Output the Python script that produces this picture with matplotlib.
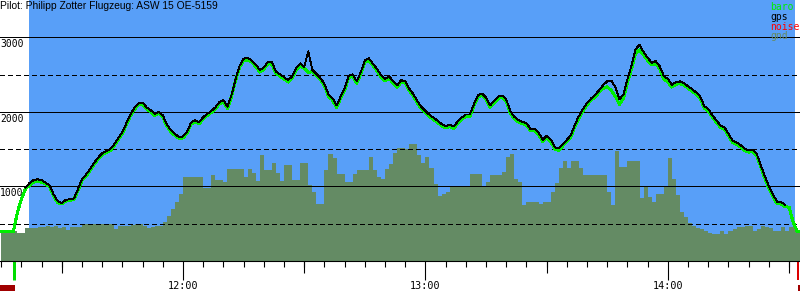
import matplotlib
matplotlib.use("Agg")
import matplotlib.pyplot as plt
import numpy as np
from matplotlib.ticker import FixedLocator, NullFormatter

# ---------------- data ----------------
title = "Pilot: Philipp Zotter Flugzeug: ASW 15 OE-5159"

# one sample per minute; time = minutes after 11:00
baro_start = 15
baro = [396, 396, 396, 396, 650, 830, 969, 1015, 1058, 1068,
        1058, 1030, 993, 870, 779, 765, 806, 812, 825, 945,
        1080, 1140, 1215, 1298, 1368, 1425, 1457, 1478, 1548, 1632,
        1713, 1831, 1950, 2035, 2098, 2105, 2038, 2002, 1953, 1982,
        1933, 1809, 1735, 1683, 1643, 1650, 1717, 1836, 1870, 1840,
        1910, 1953, 1992, 2040, 2110, 2135, 2045, 2205, 2420, 2597,
        2688, 2700, 2665, 2610, 2534, 2572, 2645, 2640, 2515, 2480,
        2440, 2400, 2450, 2560, 2625, 2580, 2527, 2540, 2485, 2430,
        2350, 2210, 2158, 2060, 2180, 2292, 2460, 2478, 2385, 2510,
        2665, 2692, 2620, 2550, 2468, 2414, 2452, 2385, 2330, 2402,
        2383, 2285, 2212, 2120, 2040, 1988, 1935, 1897, 1857, 1813,
        1785, 1805, 1780, 1846, 1900, 1939, 1939, 2080, 2200, 2220,
        2167, 2061, 2125, 2180, 2195, 2140, 1988, 1907, 1866, 1841,
        1825, 1745, 1745, 1700, 1600, 1654, 1605, 1500, 1485, 1546,
        1600, 1663, 1810, 1920, 2016, 2097, 2154, 2205, 2262, 2315,
        2335, 2285, 2210, 2100, 2180, 2400, 2575, 2785, 2830, 2760,
        2690, 2628, 2645, 2575, 2440, 2400, 2333, 2370, 2378, 2360,
        2315, 2278, 2233, 2180, 2050, 2012, 1930, 1860, 1795, 1767,
        1682, 1590, 1563, 1530, 1480, 1461, 1470, 1410, 1260, 1110,
        978, 872, 770, 763, 731, 720, 520, 400, 400]

gps_start = 21
gps = [985, 1045, 1085, 1095,
       1085, 1050, 1010, 890, 800, 780, 820, 828, 840, 965,
       1100, 1160, 1235, 1318, 1388, 1445, 1477, 1500, 1568, 1652,
       1733, 1851, 1970, 2055, 2118, 2125, 2058, 2022, 1973, 2002,
       1953, 1829, 1755, 1703, 1663, 1670, 1737, 1856, 1890, 1860,
       1930, 1973, 2012, 2060, 2130, 2160, 2070, 2225, 2440, 2620,
       2712, 2725, 2690, 2635, 2560, 2595, 2668, 2665, 2540, 2505,
       2465, 2425, 2475, 2585, 2650, 2605, 2812, 2565, 2510, 2455,
       2375, 2235, 2183, 2085, 2205, 2317, 2485, 2503, 2410, 2535,
       2690, 2717, 2645, 2575, 2493, 2439, 2477, 2410, 2355, 2427,
       2408, 2310, 2237, 2145, 2065, 2013, 1960, 1922, 1882, 1838,
       1810, 1830, 1805, 1871, 1925, 1964, 1964, 2105, 2225, 2245,
       2192, 2086, 2150, 2205, 2220, 2165, 2013, 1932, 1891, 1866,
       1850, 1770, 1770, 1725, 1625, 1679, 1630, 1525, 1510, 1571,
       1625, 1688, 1835, 1945, 2041, 2122, 2179, 2230, 2290, 2360,
       2410, 2420, 2330, 2170, 2230, 2440, 2620, 2840, 2900, 2800,
       2725, 2660, 2680, 2610, 2480, 2440, 2365, 2400, 2408, 2388,
       2342, 2305, 2260, 2207, 2077, 2037, 1955, 1885, 1820, 1792,
       1707, 1615, 1588, 1555, 1505, 1486, 1495, 1435, 1285, 1135,
       1003, 897, 795, 790, 756]

gnd_start = 15
gnd = [409, 409, 409, 396, 380, 373, 440, 440, 440, 450,
       454, 470, 460, 475, 440, 454, 420, 454, 454, 454,
       494, 494, 494, 494, 494, 494, 494, 494, 430, 467,
       467, 467, 480, 499, 499, 463, 443, 454, 476, 476,
       521, 610, 700, 790, 892, 1125, 1125, 1125, 1125, 1125,
       983, 980, 1148, 1090, 1090, 1058, 1233, 1233, 1233, 1233,
       1125, 1233, 1179, 1072, 1420, 1215, 1215, 1313, 1179, 1072,
       1282, 1282, 1080, 1080, 1313, 1313, 1013, 920, 760, 770,
       1215, 1430, 1380, 1161, 1161, 1058, 1058, 1170, 1215, 1215,
       1215, 1390, 1215, 1125, 1103, 1233, 1304, 1447, 1519, 1519,
       1500, 1573, 1573, 1416, 1313, 1400, 1250, 1036, 870, 900,
       924, 991, 991, 991, 991, 991, 1161, 1161, 1161, 991,
       1058, 1148, 1148, 1148, 1200, 1400, 1430, 1100, 1058, 750,
       789, 785, 789, 760, 789, 789, 930, 1050, 1250, 1335,
       1250, 1335, 1335, 1250, 1148, 1148, 1148, 1148, 1148, 1148,
       920, 750, 1470, 1259, 1259, 1335, 1335, 1335, 850, 1000,
       860, 790, 900, 900, 1000, 1380, 1100, 888, 660, 588,
       507, 476, 440, 432, 409, 380, 365, 356, 396, 365,
       409, 432, 454, 454, 463, 463, 409, 430, 476, 454,
       440, 409, 409, 454, 409, 454, 476, 409, 409]

flight_start, flight_end = 21.9, 211.4   # minutes after 11:00
takeoff_mark = 18.2
landing_mark = 212.3
noise_spans = [(14.7, 18.4), (212.2, 212.7)]

x_range = (14.7, 212.7)
y_max = 3500
y_solid = [1000, 2000, 3000]
y_dashed = [500, 1500, 2500]
hour_ticks = [60, 120, 180]
hour_labels = ["12:00", "13:00", "14:00"]
half_ticks = [30, 90, 150, 210]
five_ticks = list(range(15, 213, 5))

legend_names = ["baro", "gps", "noise", "gnd"]

# ---------------- style ----------------
C_BLUE = "#589ff8"
C_GND = "#648b64"
C_BARO = "#00ee00"
C_GPS = "#000000"
C_NOISE = "#ff0000"
C_NOISE_BAR = "#a00000"
legend_colors = [C_BARO, C_GPS, C_NOISE, C_GND]
PX = 0.72  # points per pixel at 100 dpi

fig = plt.figure(figsize=(8, 3), dpi=100)
fig.patch.set_facecolor("white")
ax = fig.add_axes([0, 39 / 300, 1, 261 / 300])
ax.set_facecolor("white")
ax.set_xlim(*x_range)
ax.set_ylim(0, y_max)

t_baro = baro_start + np.arange(len(baro))
t_gps = gps_start + np.arange(len(gps))
t_gnd = gnd_start + np.arange(len(gnd))

ax.axvspan(flight_start, flight_end, color=C_BLUE, lw=0, zorder=0)
ax.fill_between(t_gnd, gnd, 0, step="post", color=C_GND, lw=0, zorder=1)

for v in y_solid:
    ax.axhline(v, color="black", lw=PX * 0.9, zorder=2, antialiased=False)
for v in y_dashed:
    ax.axhline(v, color="black", lw=PX * 0.9, ls=(0, (4.5, 3.5)), zorder=2,
               antialiased=False)

ax.plot(t_baro, baro, color=C_BARO, lw=PX * 2, zorder=3, antialiased=False)
ax.plot(t_gps, gps, color=C_GPS, lw=PX * 0.9, zorder=4, antialiased=False)

for v in y_solid:
    ax.annotate(str(v), xy=(0, v), xycoords=("axes fraction", "data"),
                xytext=(0, -2), textcoords="offset pixels",
                ha="left", va="top", fontsize=7, family="DejaVu Sans Mono",
                zorder=5)

# ticks
for s in ["left", "right", "top"]:
    ax.spines[s].set_visible(False)
ax.spines["bottom"].set_color("black")
ax.spines["bottom"].set_linewidth(PX * 1.1)
ax.spines["bottom"].set_zorder(6)
ax.set_yticks([])
ax.xaxis.set_major_locator(FixedLocator(hour_ticks))
ax.set_xticklabels(hour_labels)
ax.xaxis.set_minor_locator(FixedLocator(five_ticks))
ax.xaxis.set_minor_formatter(NullFormatter())
ax.tick_params(axis="x", which="major", length=19 * PX, width=PX * 1.1,
               pad=1, labelsize=7.3, direction="out", color="black")
ax.tick_params(axis="x", which="minor", length=6 * PX, width=PX * 1.1,
               direction="out", color="black")
for lbl in ax.get_xticklabels():
    lbl.set_family("DejaVu Sans Mono")

sec = ax.secondary_xaxis("bottom")
sec.set_xticks(half_ticks)
sec.set_xticklabels([""] * len(half_ticks))
sec.tick_params(axis="x", length=12 * PX, width=PX * 1.1, direction="out")
sec.spines["bottom"].set_visible(False)

# take-off / landing markers and noise bars below the axis
trans = ax.get_xaxis_transform()
ax.vlines([takeoff_mark], -19 / 261, 0, transform=trans, color="#00dd00",
          lw=3 * PX, clip_on=False, zorder=6)
ax.vlines([landing_mark], -19 / 261, 0, transform=trans, color="#dd0000",
          lw=2 * PX, clip_on=False, zorder=6)
for a, b in noise_spans:
    ax.axvspan(a, b, ymin=-30 / 261, ymax=-24 / 261, color=C_NOISE_BAR,
               lw=0, clip_on=False)

# title and legend
fig.text(0.0, 1 - 1.0 / 300, title, ha="left", va="top", fontsize=7.4,
         family="Liberation Sans", color="black")
baselines = [10, 19.5, 29.5, 39]
for name, c, b in zip(legend_names, legend_colors, baselines):
    fig.text(770 / 800, 1 - b / 300, name, color=c, ha="left", va="baseline",
             fontsize=7, family="DejaVu Sans Mono")

fig.savefig("out.png", dpi=100)
